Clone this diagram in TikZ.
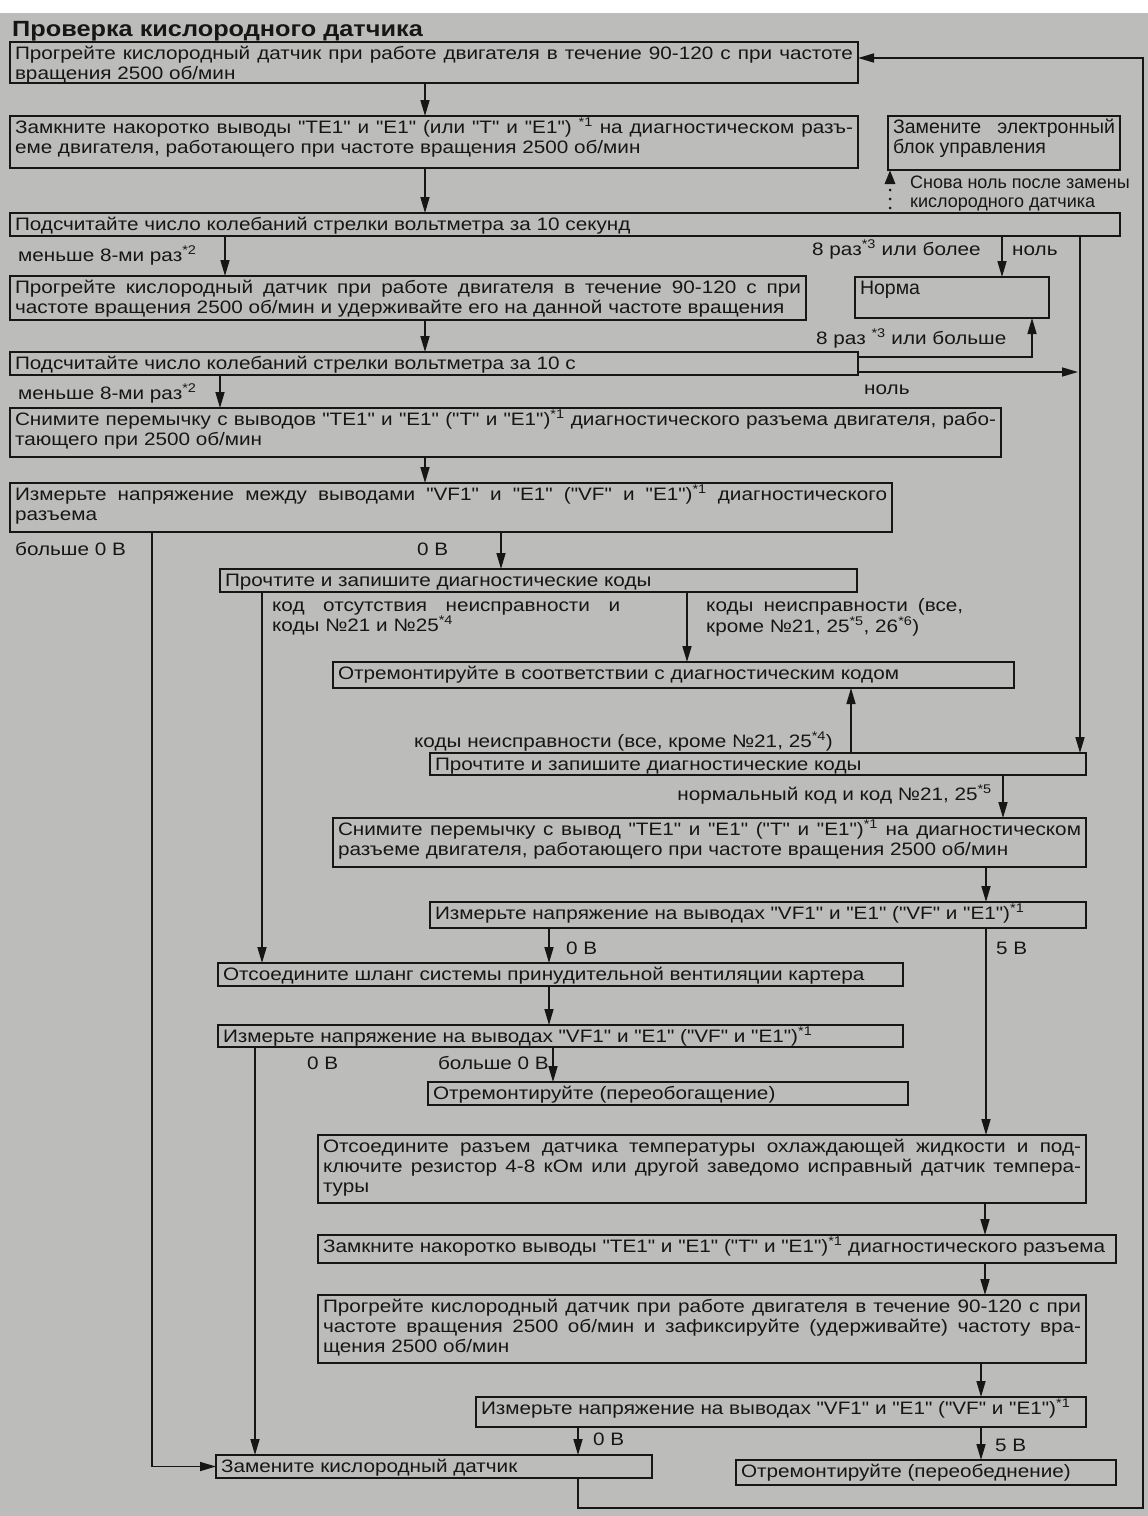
\documentclass[tikz,border=0pt]{standalone}
\usepackage{fontspec}
\setmainfont{Liberation Sans}
% plain family: straight quotes, slightly widened glyphs
\newfontfamily\wide{Liberation Sans}[FakeStretch=1.15]
\usetikzlibrary{arrows.meta}
\definecolor{paper}{RGB}{188,188,186}
\definecolor{ink}{RGB}{22,22,22}
\newcommand\mainfs{\wide\fontsize{18}{20}\selectfont}
\newcommand\regfs{\rmfamily\fontsize{18}{20}\selectfont}
\newcommand\bigfs{\rmfamily\fontsize{19.5}{20}\selectfont}
% full-width (justified) line inside a box
\newcommand\fl[1]{\makebox[\linewidth][s]{#1}}
% box: name, x1, y1, x2, y2, text (pixel-like coordinates, y downwards)
\newcommand\bx[6]{%
  \node[box, minimum width={#4-#2}, minimum height={#5-#3}] (#1) at (#2,#3)
    {\parbox[c][\dimexpr#5pt-#3pt-4pt\relax][t]{\dimexpr#4pt-#2pt-10pt\relax}%
      {\mainfs\rule{0pt}{15pt}#6}};}
\begin{document}
\begin{tikzpicture}[x=1pt,y=-1pt,
  box/.style={draw=ink, line width=2.2pt, anchor=north west, inner xsep=5pt,
    inner ysep=2pt, outer sep=0pt, text=ink},
  lbl/.style={anchor=base west, inner sep=0pt, font=\mainfs, text=ink},
  lble/.style={anchor=base east, inner sep=0pt, font=\mainfs, text=ink},
  note/.style={anchor=base west, inner sep=0pt, font=\regfs, text=ink},
  arr/.style={draw=ink, line width=1.6pt, -{Triangle[length=16pt,width=9pt]}},
  dotarr/.style={draw=ink, line width=3pt, line cap=round,
    dash pattern=on 0pt off 9pt, dash phase=4pt,
    -{Triangle[length=14pt,width=10pt,line cap=butt]}},
]
\useasboundingbox (0,0) rectangle (1148,1516);
\fill[white] (0,0) rectangle (1148,1516);
\fill[paper] (0,13) rectangle (1148,1516);

% title
\node[anchor=base west, inner sep=0pt, font=\wide\fontsize{22}{26}\selectfont\bfseries, text=ink]
  (title) at (12,36) {Проверка кислородного датчика};

% boxes
\bx{b1}{10}{42}{858}{83}{\fl{Прогрейте кислородный датчик при работе двигателя в течение 90-120 с при частоте}\\вращения 2500 об/мин}
\bx{b2}{10}{116}{858}{168}{\fl{Замкните накоротко выводы "TE1" и "E1" (или "T" и "E1") \textsuperscript{*1} на диагностическом разъ-}\\еме двигателя, работающего при частоте вращения 2500 об/мин}
\bx{ecu}{888}{116}{1120}{170}{\bigfs\fl{Замените \ электронный}\\блок управления}
\bx{b3}{10}{213}{1120}{236}{Подсчитайте число колебаний стрелки вольтметра за 10 секунд}
\bx{b4}{10}{276}{806}{320}{\fl{Прогрейте кислородный датчик при работе двигателя в течение 90-120 с при}\\частоте вращения 2500 об/мин и удерживайте его на данной частоте вращения}
\bx{norma}{855}{277}{1049}{318}{\bigfs Норма}
\bx{b5}{10}{352}{858}{375}{Подсчитайте число колебаний стрелки вольтметра за 10 с}
\bx{b6}{10}{408}{1001}{457}{\fl{Снимите перемычку с выводов "TE1" и "E1" ("T" и "E1")\textsuperscript{*1} диагностического разъема двигателя, рабо-}\\тающего при 2500 об/мин}
\bx{b7}{10}{483}{892}{532}{\fl{Измерьте напряжение между выводами "VF1" и "E1" ("VF" и "E1")\textsuperscript{*1} диагностического}\\разъема}
\bx{b8}{220}{569}{857}{592}{Прочтите и запишите диагностические коды}
\bx{b9}{333}{662}{1014}{688}{Отремонтируйте в соответствии с диагностическим кодом}
\bx{b10}{430}{753}{1086}{775}{Прочтите и запишите диагностические коды}
\bx{b11}{333}{818}{1086}{867}{\fl{Снимите перемычку с вывод "TE1" и "E1" ("T" и "E1")\textsuperscript{*1} на диагностическом}\\разъеме двигателя, работающего при частоте вращения 2500 об/мин}
\bx{b12}{430}{902}{1086}{928}{Измерьте напряжение на выводах "VF1" и "E1" ("VF" и "E1")\textsuperscript{*1}}
\bx{b13}{218}{963}{903}{986}{Отсоедините шланг системы принудительной вентиляции картера}
\bx{b14}{218}{1025}{903}{1047}{Измерьте напряжение на выводах "VF1" и "E1" ("VF" и "E1")\textsuperscript{*1}}
\bx{b15}{428}{1082}{908}{1105}{Отремонтируйте (переобогащение)}
\bx{b16}{318}{1135}{1086}{1203}{\fl{Отсоедините разъем датчика температуры охлаждающей жидкости и под-}\\\fl{ключите резистор 4-8 кОм или другой заведомо исправный датчик темпера-}\\туры}
\bx{b17}{318}{1235}{1116}{1263}{Замкните накоротко выводы "TE1" и "E1" ("T" и "E1")\textsuperscript{*1} диагностического разъема}
\bx{b18}{318}{1295}{1086}{1363}{\fl{Прогрейте кислородный датчик при работе двигателя в течение 90-120 с при}\\\fl{частоте вращения 2500 об/мин и зафиксируйте (удерживайте) частоту вра-}\\щения 2500 об/мин}
\bx{b19}{476}{1397}{1086}{1427}{Измерьте напряжение на выводах "VF1" и "E1" ("VF" и "E1")\textsuperscript{*1}}
\bx{b20}{216}{1455}{652}{1478}{Замените кислородный датчик}
\bx{b21}{736}{1460}{1116}{1485}{Отремонтируйте (переобеднение)}

% connectors
\draw[arr] (425,0 |- b1.south) -- (425,0 |- b2.north);
\draw[arr] (425,0 |- b2.south) -- (425,0 |- b3.north);
\draw[dotarr] (890,0 |- b3.north) -- (890,0 |- ecu.south);
\draw[arr] (225,0 |- b3.south) -- (225,0 |- b4.north);
\draw[arr] (1002,0 |- b3.south) -- (1002,0 |- norma.north);
\draw[arr] (1080,0 |- b3.south) -- (1080,0 |- b10.north);
\draw[arr] (425,0 |- b4.south) -- (425,0 |- b5.north);
\draw[arr] (b5.east |- 0,357) -| (1032,0 |- norma.south);
\coordinate (zero) at (1078,372);
\draw[arr] (b5.east |- 0,372) -- (zero);
\draw[arr] (220,0 |- b5.south) -- (220,0 |- b6.north);
\draw[arr] (425,0 |- b6.south) -- (425,0 |- b7.north);
\draw[arr] (501,0 |- b7.south) -- (501,0 |- b8.north);
\draw[arr] (152,0 |- b7.south) |- (b20.west);
\draw[arr] (262,0 |- b8.south) -- (262,0 |- b13.north);
\draw[arr] (687,0 |- b8.south) -- (687,0 |- b9.north);
\draw[arr] (851,0 |- b10.north) -- (851,0 |- b9.south);
\draw[arr] (1003,0 |- b10.south) -- (1003,0 |- b11.north);
\draw[arr] (986,0 |- b11.south) -- (986,0 |- b12.north);
\draw[arr] (549,0 |- b12.south) -- (549,0 |- b13.north);
\draw[arr] (986,0 |- b12.south) -- (986,0 |- b16.north);
\draw[arr] (549,0 |- b13.south) -- (549,0 |- b14.north);
\draw[arr] (255,0 |- b14.south) -- (255,0 |- b20.north);
\draw[arr] (553,0 |- b14.south) -- (553,0 |- b15.north);
\draw[arr] (985,0 |- b16.south) -- (985,0 |- b17.north);
\draw[arr] (985,0 |- b17.south) -- (985,0 |- b18.north);
\draw[arr] (981,0 |- b18.south) -- (981,0 |- b19.north);
\draw[arr] (578,0 |- b19.south) -- (578,0 |- b20.north);
\draw[arr] (981,0 |- b19.south) -- (981,0 |- b21.north);
\draw[arr] (578,0 |- b20.south) -- (578,1508) -- (1143,1508) -- (1143,58) -- (b1.east |- 0,58);

% branch labels
\node[lbl] (l1) at (18,261) {меньше 8-ми раз\textsuperscript{*2}};
\node[lbl] (l2) at (812,255) {8 раз\textsuperscript{*3} или более};
\node[lbl] (l3) at (1012,255) {ноль};
\node[lbl] (l4) at (816,344) {8 раз \textsuperscript{*3} или больше};
\node[lbl] (l5) at (864,394) {ноль};
\node[lbl] (l6) at (18,399) {меньше 8-ми раз\textsuperscript{*2}};
\node[lbl] (l7) at (15,555) {больше 0 В};
\node[lbl] (l8) at (417,555) {0 В};
\node[lbl] (l9a) at (272,611) {\makebox[348pt][s]{код отсутствия неисправности и}};
\node[lbl] (l9b) at (272,631) {коды №21 и №25\textsuperscript{*4}};
\node[lbl] (l10a) at (706,611) {\makebox[257pt][s]{коды неисправности (все,}};
\node[lbl] (l10b) at (706,632) {кроме №21, 25\textsuperscript{*5}, 26\textsuperscript{*6})};
\node[lbl] (l11) at (414,747) {коды неисправности (все, кроме №21, 25\textsuperscript{*4})};
\node[lble] (l12) at (992,800) {нормальный код и код №21, 25\textsuperscript{*5}};
\node[lbl] (l13) at (566,954) {0 В};
\node[lbl] (l14) at (996,954) {5 В};
\node[lbl] (l15) at (307,1069) {0 В};
\node[lble] (l16) at (549,1069) {больше 0 В};
\node[lbl] (l17) at (593,1445) {0 В};
\node[lbl] (l18) at (995,1451) {5 В};
\node[note] (l19a) at (910,188) {Снова ноль после замены};
\node[note] (l19b) at (910,207) {кислородного датчика};
\end{tikzpicture}
\end{document}
